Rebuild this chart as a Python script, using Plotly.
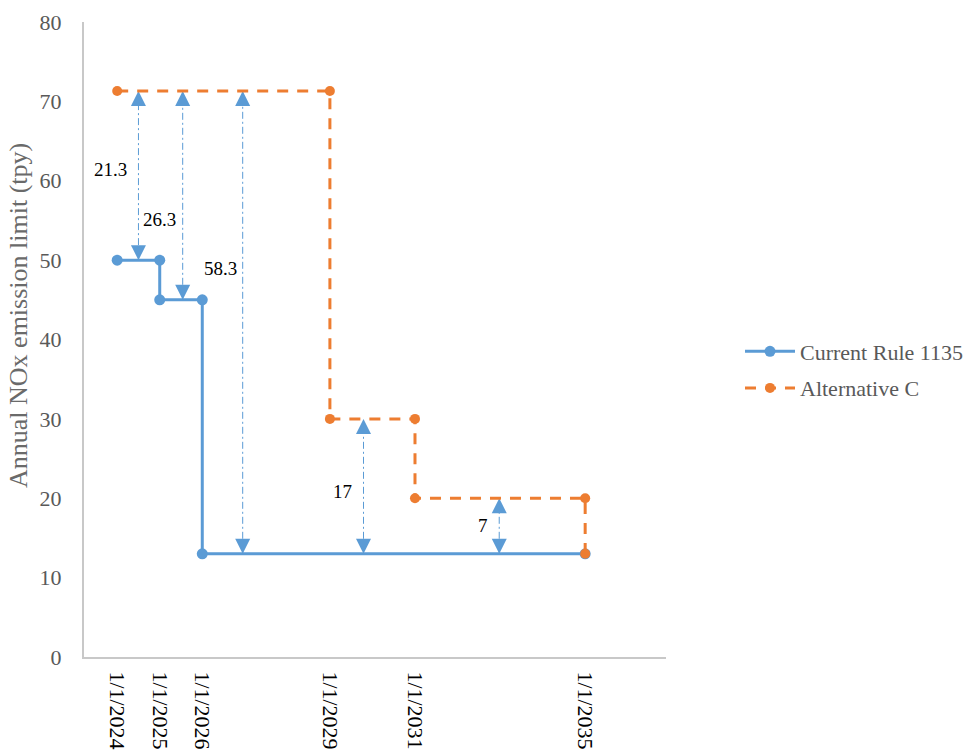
import plotly.graph_objects as go

# Emission limits as step series (decimal years on the x axis)
current_x = [2024, 2025, 2025, 2026, 2026, 2035]
current_y = [50, 50, 45, 45, 13, 13]

alt_x = [2024, 2029, 2029, 2031, 2031, 2035, 2035]
alt_y = [71.3, 71.3, 30, 30, 20, 20, 13]

# Gap arrows between the two limits: position, lower limit, upper limit
gap_x = [2024.5, 2025.54, 2026.95, 2029.79, 2032.98]
gap_low = [50, 45, 13, 13, 13]
gap_high = [71.3, 71.3, 71.3, 30, 20]
gap_text = ["21.3", "26.3", "58.3", "17", "7"]
# label anchor points
label_x = [2023.84, 2025.0, 2026.42, 2029.29, 2032.6]
label_y = [61.4, 55.1, 49.0, 20.9, 16.6]

tick_years = [2024, 2025, 2026, 2029, 2031, 2035]
tick_text = ["1/1/2024", "1/1/2025", "1/1/2026", "1/1/2029", "1/1/2031", "1/1/2035"]

BLUE = "#5B9BD5"
ORANGE = "#ED7D31"
SERIF = "Liberation Serif, Times New Roman, serif"

fig = go.Figure()

# dash-dot arrow shafts and heads
for gx, lo, hi in zip(gap_x, gap_low, gap_high):
    fig.add_trace(go.Scatter(
        x=[gx, gx], y=[lo, hi], mode="lines",
        line=dict(color=BLUE, width=1, dash="7px,3px,2px,3px"),
        showlegend=False, hoverinfo="skip"))
fig.add_trace(go.Scatter(
    x=gap_x, y=gap_high, mode="markers",
    marker=dict(symbol="arrow-up", size=15, color=BLUE, line=dict(width=0)),
    showlegend=False, hoverinfo="skip"))
fig.add_trace(go.Scatter(
    x=gap_x, y=gap_low, mode="markers",
    marker=dict(symbol="arrow-down", size=15, color=BLUE, line=dict(width=0)),
    showlegend=False, hoverinfo="skip"))

fig.add_trace(go.Scatter(
    x=current_x, y=current_y, mode="lines+markers", name="Current Rule 1135",
    line=dict(color=BLUE, width=3),
    marker=dict(color=BLUE, size=11, symbol="circle"),
    legendgroup="a"))
fig.add_trace(go.Scatter(
    x=alt_x, y=alt_y, mode="lines+markers", name="Alternative C",
    line=dict(color=ORANGE, width=3, dash="11px,9px"),
    marker=dict(color=ORANGE, size=10, symbol="circle"),
    legendgroup="b"))

for lx, ly, t in zip(label_x, label_y, gap_text):
    fig.add_annotation(x=lx, y=ly, text=t, showarrow=False,
                       font=dict(family=SERIF, size=19, color="#000000"))

# y-axis title placed left of the tick labels
fig.add_annotation(
    x=(18 - 84) / 582, xref="paper", xanchor="center",
    y=0.537, yref="paper", yanchor="middle",
    text="Annual NOx emission limit (tpy)", textangle=-90, showarrow=False,
    font=dict(family=SERIF, size=26, color="#6A6A6A"))

fig.update_xaxes(
    range=[2023.22, 2036.9], tickvals=tick_years, ticktext=tick_text,
    tickangle=90, ticks="", ticklabelstandoff=8, automargin=False,
    tickfont=dict(family=SERIF, size=22, color="#000000"),
    showline=True, linecolor="#C8C8C8", linewidth=2,
    showgrid=False, zeroline=False)
fig.update_yaxes(
    range=[0, 80], dtick=10, ticks="", ticklabelstandoff=16, automargin=False,
    tickfont=dict(family=SERIF, size=22, color="#595959"),
    showline=True, linecolor="#C8C8C8", linewidth=2,
    showgrid=False, zeroline=False)

fig.update_layout(
    width=966, height=756,
    margin=dict(l=84, r=300, t=22, b=99, autoexpand=False),
    plot_bgcolor="white", paper_bgcolor="white",
    font=dict(family=SERIF),
    legend=dict(
        x=(740 - 84) / 582, xanchor="left", y=0.452, yanchor="middle",
        font=dict(family=SERIF, size=22, color="#595959"),
        itemwidth=50, tracegroupgap=5, traceorder="grouped"),
)

fig.write_html("out.html")
